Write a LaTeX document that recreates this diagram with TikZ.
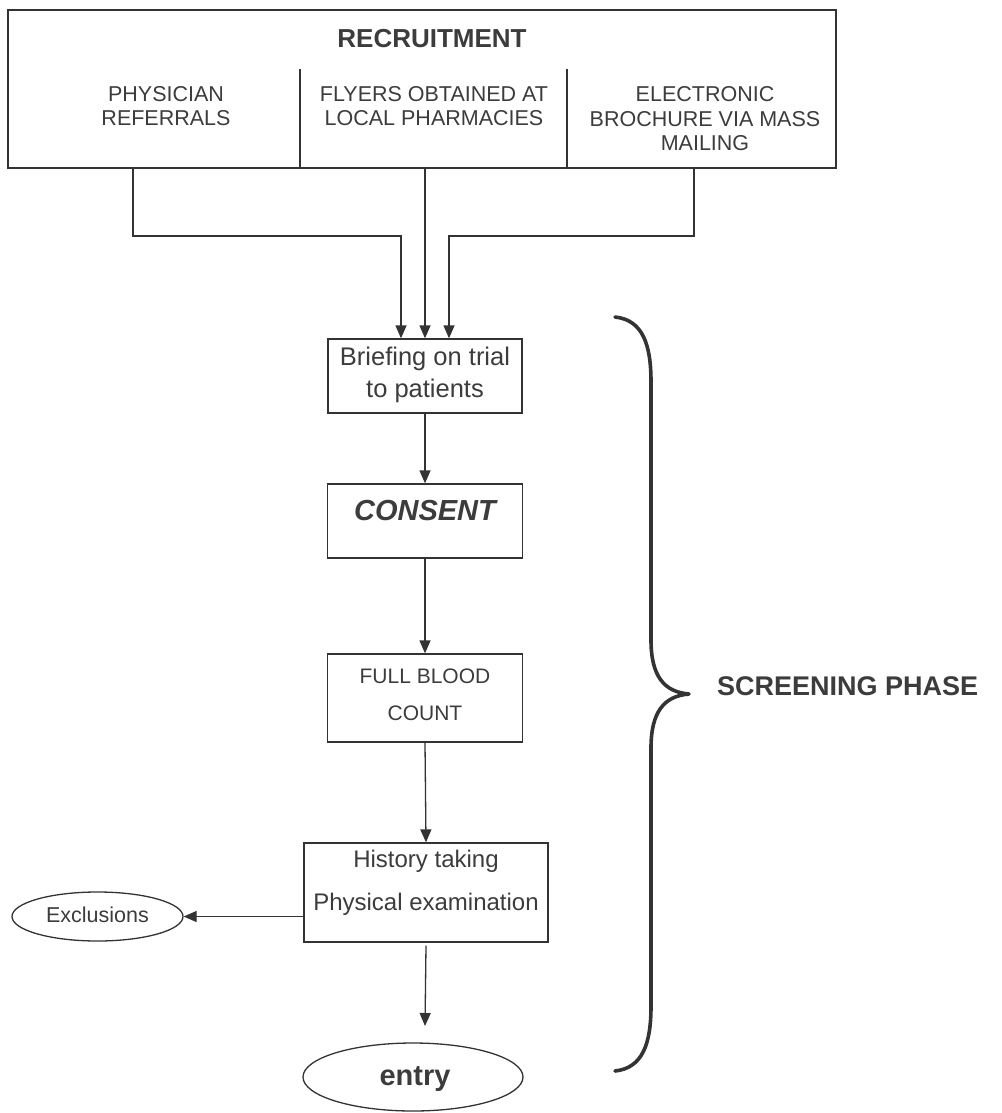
\documentclass[tikz,border=0pt]{standalone}
\usepackage{fontspec}
\setmainfont{Liberation Sans}
\usetikzlibrary{shapes.geometric,arrows.meta}
\definecolor{ink}{HTML}{333333}
\definecolor{txt}{HTML}{3c3c3c}
\begin{document}
\begin{tikzpicture}[x=1pt,y=-1pt,
  box/.style={draw=ink,line width=1.3pt,inner sep=0pt,fill=white},
  oval/.style={draw=ink,line width=1.3pt,ellipse,inner sep=0pt},
  lbl/.style={text=txt,align=center,inner sep=0pt},
  conn/.style={draw=ink,line width=1.3pt},
  arr/.style={conn,-{Triangle[width=11pt,length=13pt]}},
  fsmall/.style={font=\fontsize{21.5}{24.5}\selectfont},
]
\useasboundingbox[fill=white] (0,0) rectangle (1001,1113);

% recruitment box
\node[box,minimum width=828pt,minimum height=158pt] (rec) at (422,89) {};
\node[lbl,font=\fontsize{26}{30}\selectfont\bfseries] (rectitle) at (432,39) {RECRUITMENT};
\coordinate (d1t) at (300,69);
\coordinate (d2t) at (567,69);
\draw[conn] (d1t) -- (d1t |- rec.south);
\draw[conn] (d2t) -- (d2t |- rec.south);
\node[lbl,fsmall] (phys) at (166,106) {PHYSICIAN\\REFERRALS};
\node[lbl,fsmall] (flyers) at (434,106) {FLYERS OBTAINED AT\\LOCAL PHARMACIES};
\node[lbl,fsmall] (elec) at (705,119) {ELECTRONIC\\BROCHURE VIA MASS\\MAILING};

% screening boxes
\node[box,minimum width=194pt,minimum height=74pt] (brief) at (425,376) {};
\node[lbl,font=\fontsize{25.5}{32}\selectfont] (brieftxt) at (425,375) {Briefing on trial\\to patients};

\node[box,minimum width=195pt,minimum height=74pt] (consent) at (425,521) {};
\node[lbl,font=\fontsize{29}{32}\selectfont\bfseries\itshape] (consenttxt) at (425,511) {CONSENT};

\node[box,minimum width=195pt,minimum height=88pt] (fbc) at (425,698) {};
\node[lbl,font=\fontsize{21}{37}\selectfont] (fbctxt) at (425,695) {FULL BLOOD\\COUNT};

\node[box,minimum width=244pt,minimum height=99pt] (hist) at (426,892.5) {};
\node[lbl,font=\fontsize{24}{28}\selectfont] (histtxt1) at (426,861) {History taking};
\node[lbl,font=\fontsize{24}{28}\selectfont] (histtxt2) at (426,904) {Physical examination};

\node[oval,minimum width=171pt,minimum height=49pt] (excl) at (97.5,916.5) {};
\node[lbl,font=\fontsize{21.5}{24}\selectfont] (excltxt) at (97.5,915) {Exclusions};

\node[oval,minimum width=220pt,minimum height=68pt] (entry) at (413,1077) {};
\node[lbl,font=\fontsize{29}{32}\selectfont\bfseries] (entrytxt) at (415,1079) {entry};

% connectors from recruitment
\coordinate (s1) at (133,168);
\coordinate (s2) at (425,168);
\coordinate (s3) at (694,168);
\coordinate (hl) at (0,236);
\draw[arr] (s1) -- (s1 |- hl) -| ([xshift=-24pt]brief.north);
\draw[arr] (s2) -- (brief.north);
\draw[arr] (s3) -- (s3 |- hl) -| ([xshift=24pt]brief.north);

% vertical flow
\draw[arr] (brief.south) -- (consent.north);
\draw[arr] (consent.south) -- (fbc.north);
\draw[arr] (fbc.south) -- (hist.north);
\coordinate (etip) at (425,1026);
\draw[arr] ([yshift=-3pt]hist.south) -- (etip);
\draw[arr] (excl.east -| hist.west) -- (excl.east);

% brace
\draw[draw=ink,line width=3.6pt,line cap=round,line join=round]
  (615,317) .. controls (643,320) and (651,345) .. (651,382)
  -- (651,640) .. controls (651,676) and (664,692) .. (689,694)
  .. controls (664,696) and (651,712) .. (651,748)
  -- (651,1006) .. controls (651,1043) and (643,1068) .. (615,1071);
\node[lbl,font=\fontsize{27}{30}\selectfont\bfseries,anchor=west] (phase) at (717,686) {SCREENING PHASE};
\end{tikzpicture}
\end{document}
